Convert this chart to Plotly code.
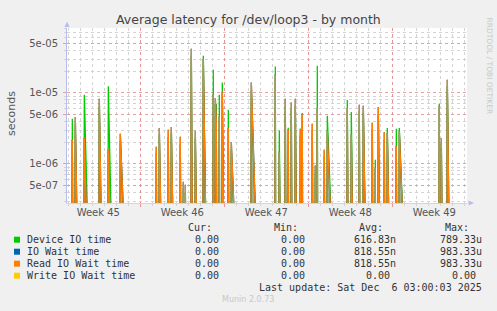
import numpy as np
import pandas as pd
import plotly.graph_objects as go

TITLE = "Average latency for /dev/loop3 - by month"
Y_LABEL = "seconds"

# Non-zero 2-hour samples (every other sample of the month is 0)
spike_times = [
    "2025-11-04 08:00", "2025-11-04 14:00", "2025-11-05 08:00", "2025-11-06 14:00",
    "2025-11-07 08:00", "2025-11-08 08:00", "2025-11-11 08:00", "2025-11-11 14:00",
    "2025-11-12 08:00", "2025-11-12 14:00", "2025-11-13 08:00", "2025-11-13 14:00",
    "2025-11-13 18:00", "2025-11-14 06:00", "2025-11-14 14:00", "2025-11-15 06:00",
    "2025-11-16 02:00", "2025-11-16 06:00", "2025-11-16 08:00", "2025-11-16 14:00",
    "2025-11-16 20:00", "2025-11-17 08:00", "2025-11-17 14:00", "2025-11-19 06:00",
    "2025-11-21 06:00", "2025-11-21 14:00", "2025-11-22 02:00", "2025-11-22 08:00",
    "2025-11-22 14:00", "2025-11-22 22:00", "2025-11-23 08:00", "2025-11-23 12:00",
    "2025-11-24 08:00", "2025-11-24 14:00", "2025-11-24 18:00", "2025-11-25 08:00",
    "2025-11-25 14:00", "2025-11-27 06:00", "2025-11-27 14:00", "2025-11-28 06:00",
    "2025-11-28 14:00", "2025-11-29 08:00", "2025-11-29 14:00", "2025-11-29 20:00",
    "2025-11-30 08:00", "2025-11-30 14:00", "2025-12-01 08:00", "2025-12-01 14:00",
    "2025-12-04 22:00", "2025-12-05 02:00", "2025-12-05 14:00",
]
device_io_time = [
    4.35e-6, 3.6e-6, 9.46e-6, 6.5e-6,
    1.24e-5, 2.1e-6, 1.4e-6, 2.6e-6,
    2.4e-6, 2.7e-6, 1.9e-6, 4.5e-7,
    4.0e-7, 3.3e-5, 2.3e-6, 3.35e-5,
    2.13e-5, 6.8e-6, 6.84e-6, 9.46e-6,
    1.4e-5, 5.82e-6, 1.6e-6, 1.1e-5,
    2.37e-5, 2.97e-6, 6.6e-6, 3.24e-6,
    5.9e-6, 6.6e-6, 2.5e-6, 5.23e-6,
    3.0e-6, 7.6e-7, 2.42e-5, 1.3e-6,
    4.79e-6, 7.97e-6, 5.40e-6, 5.5e-6,
    5.3e-6, 3.1e-6, 1.15e-6, 5.1e-6,
    2.2e-6, 3.21e-6, 3.14e-6, 3.21e-6,
    7.07e-6, 1.9e-6, 1.25e-5,
]
read_io_wait_time = [
    2.20e-6, 4.59e-6, 2.32e-6, 8.31e-6,
    1.62e-6, 2.67e-6, 1.75e-6, 3.21e-6,
    3.04e-6, 3.32e-6, 2.42e-6, 5.63e-7,
    5.1e-7, 4.21e-5, 2.94e-6, 3.0e-5,
    9.5e-6, 8.5e-6, 4.0e-6, 4.68e-6,
    1.02e-5, 3.2e-6, 2.0e-6, 1.4e-5,
    1.81e-5, 1.5e-6, 8.31e-6, 3.1e-6,
    7.35e-6, 8.31e-6, 3.14e-6, 5.0e-6,
    3.70e-6, 9.5e-7, 6.15e-6, 1.59e-6,
    2.94e-6, 6.15e-6, 2.59e-6, 6.84e-6,
    6.62e-6, 3.82e-6, 8.8e-7, 6.35e-6,
    2.79e-6, 2.73e-6, 1.77e-6, 2.88e-6,
    6.62e-6, 2.32e-6, 1.54e-5,
]
io_wait_time = list(read_io_wait_time)          # identical to read wait in the source
write_io_wait_time = [0.0] * len(spike_times)

sample_start, sample_end = "2025-11-03 22:00", "2025-12-06 02:00"
x_range = ["2025-11-03 21:24", "2025-12-07 05:24"]
y_range = [2.82e-7, 8.23e-5]

week_starts = ["2025-11-10", "2025-11-17", "2025-11-24", "2025-12-01"]
week_label_pos = ["2025-11-06 12:00", "2025-11-13 12:00", "2025-11-20 12:00",
                  "2025-11-27 12:00", "2025-12-04 12:00"]
week_labels = ["Week 45", "Week 46", "Week 47", "Week 48", "Week 49"]

y_tick_vals = [5e-7, 1e-6, 5e-6, 1e-5, 5e-5]
y_tick_text = ["5e-07", "1e-06", "5e-06", "1e-05", "5e-05"]

series_names = ["Device IO time", "IO Wait time", "Read IO Wait time", "Write IO Wait time"]
series_colors = ["#00cc00", "#0066b3", "#ff8000", "#ffcc00"]
stat_cur = ["0.00", "0.00", "0.00", "0.00"]
stat_min = ["0.00", "0.00", "0.00", "0.00"]
stat_avg = ["616.83n", "818.55n", "818.55n", "0.00"]
stat_max = ["789.33u", "983.33u", "983.33u", "0.00"]
last_update = "Last update: Sat Dec\u00a0 6 03:00:03 2025"
footer = "Munin 2.0.73"
side_text = "RRDTOOL / TOBI OETIKER"

# ---------------------------------------------------------------- layout geometry
W, H = 497, 311
ML, MR, MT, MB = 67, 30, 28, 108
PW, PH = W - ML - MR, H - MT - MB


def px(x):
    return (x - ML) / PW


def py(y):
    return (H - MB - y) / PH


FLOOR = 1e-12  # stand-in for 0 on the log axis (far below the visible range)
times = pd.date_range(sample_start, sample_end, freq="2h")


def full_series(values):
    s = pd.Series(0.0, index=times)
    s.loc[pd.to_datetime(spike_times)] = values
    return np.where(s.values > 0, s.values, FLOOR)


fig = go.Figure()
all_values = [device_io_time, io_wait_time, read_io_wait_time, write_io_wait_time]
fills = ["rgba(0,204,0,0.25)", "rgba(0,102,179,0.25)", "rgba(190,120,50,0.35)", "rgba(255,204,0,0.25)"]
for i, (name, vals, col) in enumerate(zip(series_names, all_values, series_colors)):
    fig.add_trace(go.Scatter(
        x=times, y=full_series(vals), mode="lines", name=name,
        line=dict(color=col, width=1.3), fill="tozeroy", fillcolor=fills[i],
        showlegend=False, hoverinfo="skip",
        xaxis="x2" if i == 3 else "x",
    ))

FONT = "DejaVu Sans"
MONO = "DejaVu Sans Mono"
GRID_MINOR = "#d4d4d4"
GRID_MAJOR = "rgba(230,130,130,0.75)"
AXIS = "#b8bcec"

fig.update_layout(
    width=W, height=H, margin=dict(l=ML, r=MR, t=MT, b=MB),
    paper_bgcolor="#f0f0f0", plot_bgcolor="#ffffff",
    showlegend=False,
    xaxis=dict(
        type="date", range=x_range, tickmode="array", tickvals=week_starts,
        showticklabels=False, ticks="outside", ticklen=3, tickcolor=GRID_MAJOR,
        showgrid=True, gridcolor=GRID_MAJOR, griddash="dot", gridwidth=1,
        minor=dict(dtick=86400000, tick0="2025-11-03", showgrid=True,
                   gridcolor=GRID_MINOR, griddash="dot", ticks="outside", ticklen=2,
                   tickcolor=GRID_MINOR),
        showline=True, linecolor="#eed68a", linewidth=1, zeroline=False,
    ),
    xaxis2=dict(
        type="date", overlaying="x", matches="x", anchor="y", side="bottom",
        tickmode="array", tickvals=week_label_pos, ticktext=week_labels,
        showgrid=False, ticks="", ticklabelstandoff=2,
        tickfont=dict(family=FONT, size=10, color="#555555"),
        showline=False, zeroline=False,
    ),
    yaxis=dict(
        type="log", range=[np.log10(y_range[0]), np.log10(y_range[1])],
        tickmode="array", tickvals=y_tick_vals, ticktext=y_tick_text,
        tickfont=dict(family=FONT, size=10, color="#555555"),
        ticks="outside", ticklen=3, tickcolor=GRID_MAJOR,
        showgrid=True, gridcolor=GRID_MAJOR, griddash="dot", gridwidth=1,
        minor=dict(tickmode="array",
                   tickvals=[m * 10.0 ** e for e in range(-7, -3) for m in (2, 3, 4, 6, 7, 8, 9)],
                   showgrid=True, gridcolor=GRID_MINOR, griddash="dot",
                   ticks="outside", ticklen=2, tickcolor=GRID_MINOR),
        showline=True, linecolor=AXIS, linewidth=1, zeroline=False,
        ticklabelstandoff=3,
    ),
)

ann = []
ann.append(dict(text=TITLE, x=px(248), y=py(19.5), xref="paper", yref="paper",
                showarrow=False, xanchor="center", yanchor="middle",
                font=dict(family=FONT, size=12.5, color="#444444")))
ann.append(dict(text=Y_LABEL, x=px(11), y=py(113), xref="paper", yref="paper",
                showarrow=False, textangle=-90, xanchor="center", yanchor="middle",
                font=dict(family=FONT, size=11, color="#555555")))
ann.append(dict(text=side_text, x=px(489), y=py(15), xref="paper", yref="paper",
                showarrow=False, textangle=90, xanchor="center", yanchor="top",
                font=dict(family=FONT, size=7.5, color="#c8c8c8")))

row_y = [239.7, 251.7, 263.7, 275.7]
col_right = [226, 312, 397, 483]
headers = ["Cur:", "Min:", "Avg:", "Max:"]
for hdr, cr in zip(headers, col_right):
    ann.append(dict(text=hdr, x=px(cr - 13), y=py(227.3), xref="paper", yref="paper",
                    showarrow=False, xanchor="right", yanchor="middle", borderpad=0,
                    font=dict(family=MONO, size=10, color="#333333")))


def pad(v):
    return v if v[-1].isalpha() else v + "\u00a0"


shapes = []
for i, name in enumerate(series_names):
    yy = row_y[i]
    shapes.append(dict(type="rect", xref="paper", yref="paper",
                       x0=px(14), x1=px(20), y0=py(yy - 3), y1=py(yy + 3),
                       fillcolor=series_colors[i], line=dict(width=0)))
    ann.append(dict(text=name, x=px(26), y=py(yy), xref="paper", yref="paper",
                    showarrow=False, xanchor="left", yanchor="middle", borderpad=0,
                    font=dict(family=MONO, size=10, color="#333333")))
    for stat, cr in zip([stat_cur, stat_min, stat_avg, stat_max], col_right):
        ann.append(dict(text=pad(stat[i]), x=px(cr), y=py(yy), xref="paper", yref="paper",
                        showarrow=False, xanchor="right", yanchor="middle", borderpad=0,
                        font=dict(family=MONO, size=10, color="#333333")))

ann.append(dict(text=last_update, x=px(483), y=py(287.7), xref="paper", yref="paper",
                showarrow=False, xanchor="right", yanchor="middle", borderpad=0,
                font=dict(family=MONO, size=10, color="#333333")))
ann.append(dict(text=footer, x=px(248), y=py(299.5), xref="paper", yref="paper",
                showarrow=False, xanchor="center", yanchor="middle", borderpad=0,
                font=dict(family=FONT, size=8, color="#c8c8c8")))

# axis arrowheads
shapes.append(dict(type="path", xref="paper", yref="paper",
                   path=f"M {px(64.5)} {py(27)} L {px(69.5)} {py(27)} L {px(67)} {py(21.5)} Z",
                   fillcolor=AXIS, line=dict(width=0)))
shapes.append(dict(type="path", xref="paper", yref="paper",
                   path=f"M {px(468.5)} {py(200.5)} L {px(468.5)} {py(205.5)} L {px(474)} {py(203)} Z",
                   fillcolor=AXIS, line=dict(width=0)))

fig.update_layout(annotations=ann, shapes=shapes)
fig.write_html("out.html")
